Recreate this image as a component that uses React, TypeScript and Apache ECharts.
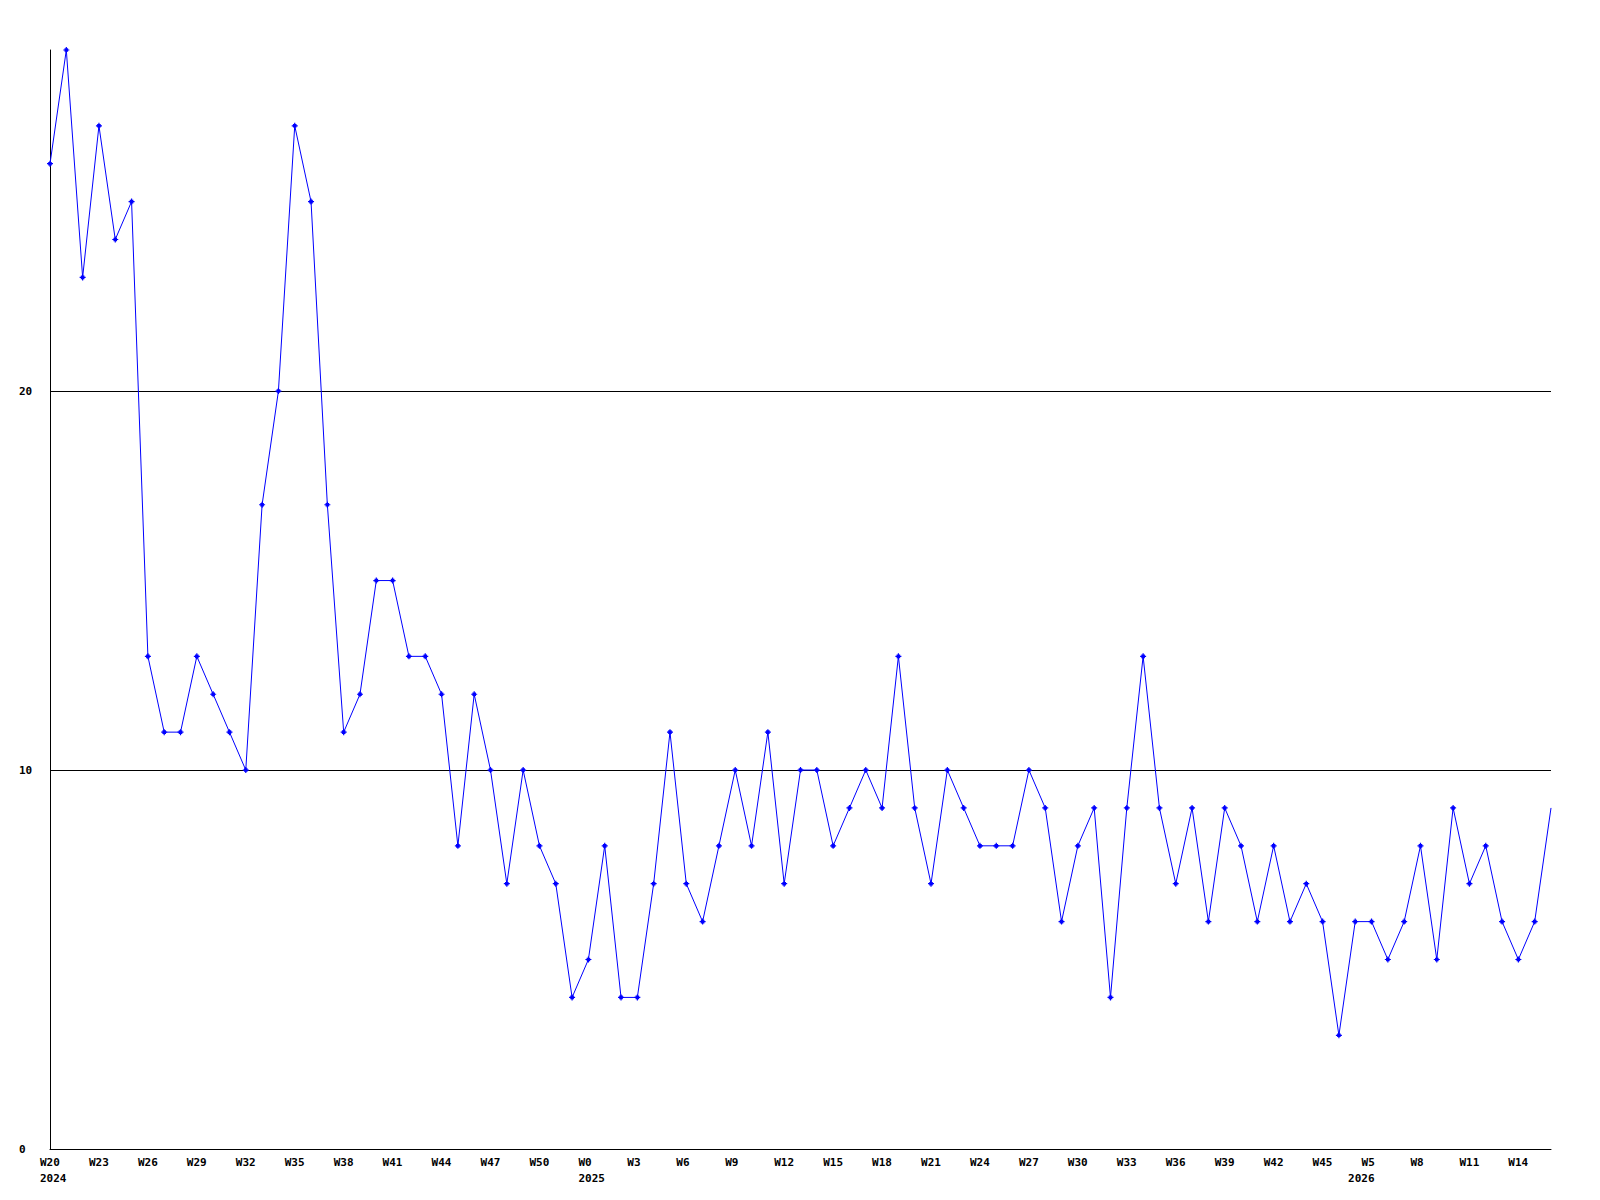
import React, { useEffect, useRef } from "react";
import * as echarts from "echarts";

// Week segments on the x axis (year, first week, last week)
const years = [2024, 2025, 2026];
const firstWeeks = [20, 0, 5];
const lastWeeks = [52, 47, 16];

// Weekly values
const values = [
  26, 29, 23, 27, 24, 25, 13, 11, 11, 13, 12, 11, 10, 17, 20, 27, 25, 17, 11, 12,
  15, 15, 13, 13, 12, 8, 12, 10, 7, 10, 8, 7, 4, 5, 8, 4, 4, 7, 11, 7,
  6, 8, 10, 8, 11, 7, 10, 10, 8, 9, 10, 9, 13, 9, 7, 10, 9, 8, 8, 8,
  10, 9, 6, 8, 9, 4, 9, 13, 9, 7, 9, 6, 9, 8, 6, 8, 6, 7, 6, 3,
  6, 6, 5, 6, 8, 5, 9, 7, 8, 6, 5, 6, 9,
];

const yTicks = [0, 10, 20];
const yMax = 29;

const categories: string[] = [];
const yearAtIndex: Record<number, number> = {};
years.forEach((y, k) => {
  yearAtIndex[categories.length] = y;
  for (let w = firstWeeks[k]; w <= lastWeeks[k]; w++) categories.push("W" + w);
});
const lastYear = years[years.length - 1];

const FONT = "DejaVu Sans Mono";
const baseText = {
  fontFamily: FONT,
  fontSize: 11,
  fontWeight: "bold",
  color: "#000",
  lineHeight: 16,
};

export default function App() {
  const ref = useRef<HTMLDivElement>(null);
  useEffect(() => {
    if (!ref.current) return;
    const chart = echarts.init(ref.current, null, { renderer: "svg" });
    const plus = "path://M2,0H3V1H4V2H5V3H4V4H3V5H2V4H1V3H0V2H1V1H2Z";
    chart.setOption({
      animation: false,
      backgroundColor: "#ffffff",
      grid: { left: 50, top: 50, right: 49, bottom: 51, containLabel: false },
      xAxis: {
        type: "category",
        data: categories,
        boundaryGap: false,
        axisLine: { show: true, lineStyle: { color: "#000", width: 1 } },
        axisTick: { show: false },
        splitLine: { show: false },
        axisLabel: {
          interval: 2,
          margin: 5,
          formatter: (v: string, i: number) => {
            const y = yearAtIndex[i];
            if (y === undefined) return `{w|${v}}`;
            if (y === lastYear) return `{w|${v}}\n{r|${y}}{s| }`;
            return `{w|${v}}\n{w|${y}}`;
          },
          rich: {
            w: { ...baseText, width: 20, align: "left" },
            r: { ...baseText, width: 13, align: "right" },
            s: { ...baseText, width: 7, align: "right" },
          },
        },
      },
      yAxis: {
        type: "value",
        min: yTicks[0],
        max: yMax,
        interval: yTicks[1] - yTicks[0],
        axisLine: { show: true, lineStyle: { color: "#000", width: 1 } },
        axisTick: { show: false },
        splitLine: {
          show: true,
          showMinLine: false,
          showMaxLine: false,
          lineStyle: { color: "#000", width: 1 },
        },
        axisLabel: {
          align: "left",
          margin: 31,
          fontFamily: FONT,
          fontSize: 11,
          fontWeight: "bold",
          color: "#000",
          showMaxLabel: false,
        },
      },
      series: [
        {
          type: "line",
          data: values.map((v, i) =>
            i === values.length - 1 ? { value: v, symbol: "none" } : v
          ),
          symbol: plus,
          symbolSize: 6,
          showAllSymbol: true,
          lineStyle: { color: "#0000ff", width: 1 },
          itemStyle: { color: "#0000ff" },
          clip: true,
        },
      ],
    });
    return () => chart.dispose();
  }, []);
  return (
    <div
      ref={ref}
      style={{ position: "fixed", left: 0, top: 0, width: 1600, height: 1200, background: "#fff" }}
    />
  );
}
